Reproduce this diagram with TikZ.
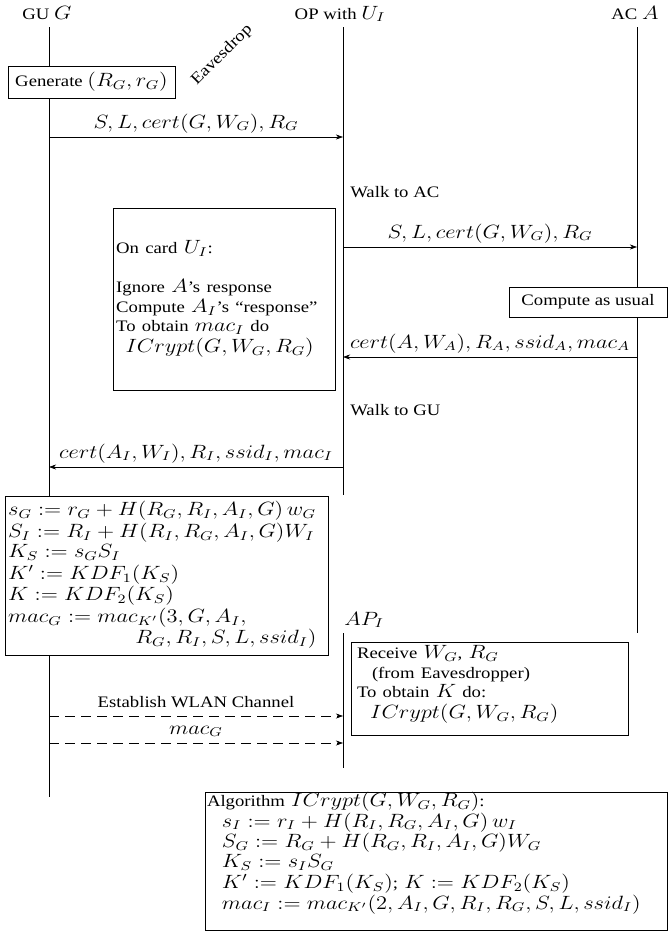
\documentclass[tikz,border=0pt]{standalone}
\usepackage[no-math]{fontspec}
\usepackage{graphicx}
\setmainfont{Liberation Serif}
\DeclareMathSizes{10}{11.5}{8}{6}
\usetikzlibrary{arrows.meta}
\newcommand\sx[1]{\scalebox{1.17}[1]{#1}}
\newcommand\tb[1]{\sx{\begin{tabular}{@{}l@{}}#1\end{tabular}}}
\begin{document}
\begin{tikzpicture}[x=0.625pt,y=-0.625pt,
  every node/.style={font={\fontsize{10}{12.25}\selectfont}},
  life/.style={line width=0.4pt},
  msg/.style={-{Stealth[length=4.5pt,width=3.2pt]}, line width=0.4pt},
  dmsg/.style={msg, dash pattern=on 6pt off 4pt},
  box/.style={draw, fill=white, line width=0.4pt},
  lbl/.style={anchor=base, yshift=5.6pt, inner sep=0pt}]
\useasboundingbox (0,0) rectangle (668,942);

% heads
\node[anchor=base] (gu) at (47,19) {\sx{GU $G$}};
\node[anchor=base] (op) at (340,19) {\sx{OP with $U_I$}};
\node[anchor=base] (ac) at (635,19) {\sx{AC $A$}};

% lifelines
\coordinate (guT) at (49,27);  \coordinate (guB) at (49,797);
\coordinate (opT) at (343,27); \coordinate (opB) at (343,495);
\coordinate (acT) at (637,27); \coordinate (acB) at (637,633);
\coordinate (apT) at (343,633); \coordinate (apB) at (343,768);
\draw[life] (guT) -- (guB);
\draw[life] (opT) -- (opB);
\draw[life] (acT) -- (acB);
\draw[life] (apT) -- (apB);

% eavesdrop
\node[rotate=45] (eaves) at (222,55) {\sx{Eavesdrop}};

% generate
\node[box, minimum width=104.4pt, minimum height=20pt, inner xsep=2pt] (gen) at (91.5,82) {\sx{Generate $(R_G, r_G)$}};

% message 1
\coordinate (m1a) at (49,137); \coordinate (m1b) at (343,137);
\draw[msg] (m1a) -- node[lbl] (l1) {\sx{$S, L, cert(G, W_G), R_G$}} (m1b);

\node[anchor=base west, inner sep=0pt] (walkac) at (350,197) {\sx{Walk to AC}};

% message 2
\coordinate (m2a) at (343,247); \coordinate (m2b) at (637,247);
\draw[msg] (m2a) -- node[lbl] (l2) {\sx{$S, L, cert(G, W_G), R_G$}} (m2b);

% on card box
\node[box, text width=134.75pt, inner xsep=2pt, minimum height=113.75pt, align=left] (card) at (224,299)
 {\tb{On card $U_I$:\\
  \\
  Ignore $A$'s response\\
  Compute $A_I$'s ``response''\\
  To obtain $mac_I$ do\\
  \hspace*{5pt}$ICrypt(G, W_G, R_G)$}};

% compute as usual
\node[box, minimum width=98.75pt, minimum height=18.75pt] (cau) at (588,302) {\sx{Compute as usual}};

% message 3
\coordinate (m3a) at (637,357); \coordinate (m3b) at (343,357);
\draw[msg] (m3a) -- node[lbl] (l3) {\sx{$cert(A, W_A), R_A, ssid_A, mac_A$}} (m3b);

\node[anchor=base west, inner sep=0pt] (walkgu) at (350,415) {\sx{Walk to GU}};

% message 4
\coordinate (m4a) at (343,467); \coordinate (m4b) at (49,467);
\draw[msg] (m4a) -- node[lbl] (l4) {\sx{$cert(A_I, W_I), R_I, ssid_I, mac_I$}} (m4b);

% GU computation box
\node[box, text width=197.9pt, inner xsep=2pt, minimum height=99.4pt, align=left] (gucomp) at (166.5,575.5)
 {\tb{$s_G := r_G + H(R_G, R_I, A_I, G)\, w_G$\\[0.75pt]
  $S_I := R_I + H(R_I, R_G, A_I, G)W_I$\\[0.75pt]
  $K_S := s_G S_I$\\[0.75pt]
  $K' := KDF_1(K_S)$\\[0.75pt]
  $K := KDF_2(K_S)$\\[0.75pt]
  $mac_G := mac_{K'}(3, G, A_I,$\\[0.75pt]
  \hspace*{68pt}$R_G, R_I, S, L, ssid_I)$}};

% AP_I
\node[anchor=base west, inner sep=0pt] (ap) at (344,625) {\sx{$AP_I$}};

% receive box
\node[box, text width=165.6pt, inner xsep=3.75pt, inner ysep=0pt, minimum height=58pt, align=left] (recv) at (489.5,688.5)
 {\tb{Receive $W_G$, $R_G$\\
  \hspace*{8pt}(from Eavesdropper)\\
  To obtain $K$ do:\\
  \hspace*{7pt}$ICrypt(G, W_G, R_G)$\\[5pt]}};

% dashed messages
\coordinate (d1a) at (49,716); \coordinate (d1b) at (343,716);
\draw[dmsg] (d1a) -- node[lbl] (ld1) {\sx{Establish WLAN Channel}} (d1b);
\coordinate (d2a) at (49,743); \coordinate (d2b) at (343,743);
\draw[dmsg] (d2a) -- node[lbl] (ld2) {\sx{$mac_G$}} (d2b);

% algorithm box
\node[box, text width=286.25pt, inner xsep=1.25pt, inner ysep=0pt, minimum height=86.25pt, align=left] (alg) at (436,861)
 {\tb{Algorithm $ICrypt(G, W_G, R_G)$:\\[0.25pt]
  \hspace*{8pt}$s_I := r_I + H(R_I, R_G, A_I, G)\, w_I$\\[0.25pt]
  \hspace*{8pt}$S_G := R_G + H(R_G, R_I, A_I, G)W_G$\\[0.25pt]
  \hspace*{8pt}$K_S := s_I S_G$\\[0.25pt]
  \hspace*{8pt}$K' := KDF_1(K_S)$; $K := KDF_2(K_S)$\\[0.25pt]
  \hspace*{8pt}$mac_I := mac_{K'}(2, A_I, G, R_I, R_G, S, L, ssid_I)$\\[9.4pt]}};
\end{tikzpicture}
\end{document}
